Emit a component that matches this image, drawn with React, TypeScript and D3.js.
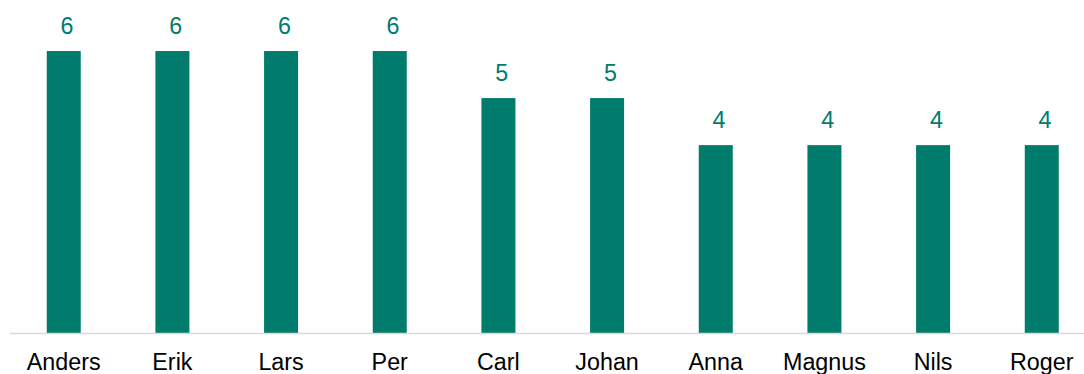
import React from "react";
import * as d3 from "d3";

const categories = ["Anders", "Erik", "Lars", "Per", "Carl", "Johan", "Anna", "Magnus", "Nils", "Roger"];
const values = [6, 6, 6, 6, 5, 5, 4, 4, 4, 4];

const W = 1084;
const H = 374;
const TEAL = "#007B6C";
const FONT = "'Liberation Sans', Arial, sans-serif";

export default function App() {
  const x = d3.scaleBand<string>().domain(categories).range([9.4, 1096.1]).padding(0);
  const y = d3.scaleLinear().domain([0, 7]).range([333.3, 4]);
  const barW = 34;
  return (
    <svg width={W} height={H} style={{ position: "absolute", left: 0, top: 0, display: "block" }}>
      <rect width={W} height={H} fill="#fff" />
      {categories.map((c, i) => {
        const cx = (x(c) as number) + x.bandwidth() / 2;
        const top = y(values[i]);
        return (
          <g key={c}>
            <rect x={cx - barW / 2} y={top} width={barW} height={y(0) - top} fill={TEAL} />
            <text x={cx + 3.3} y={top - 16.7} textAnchor="middle" fontFamily={FONT} fontSize={23.3} fill={TEAL}>
              {values[i]}
            </text>
            <text x={cx} y={370} textAnchor="middle" fontFamily={FONT} fontSize={23.3} fill="#000">
              {c}
            </text>
          </g>
        );
      })}
      <line x1={10} x2={W} y1={333.5} y2={333.5} stroke="#d9d9d9" strokeWidth={1.5} />
    </svg>
  );
}
